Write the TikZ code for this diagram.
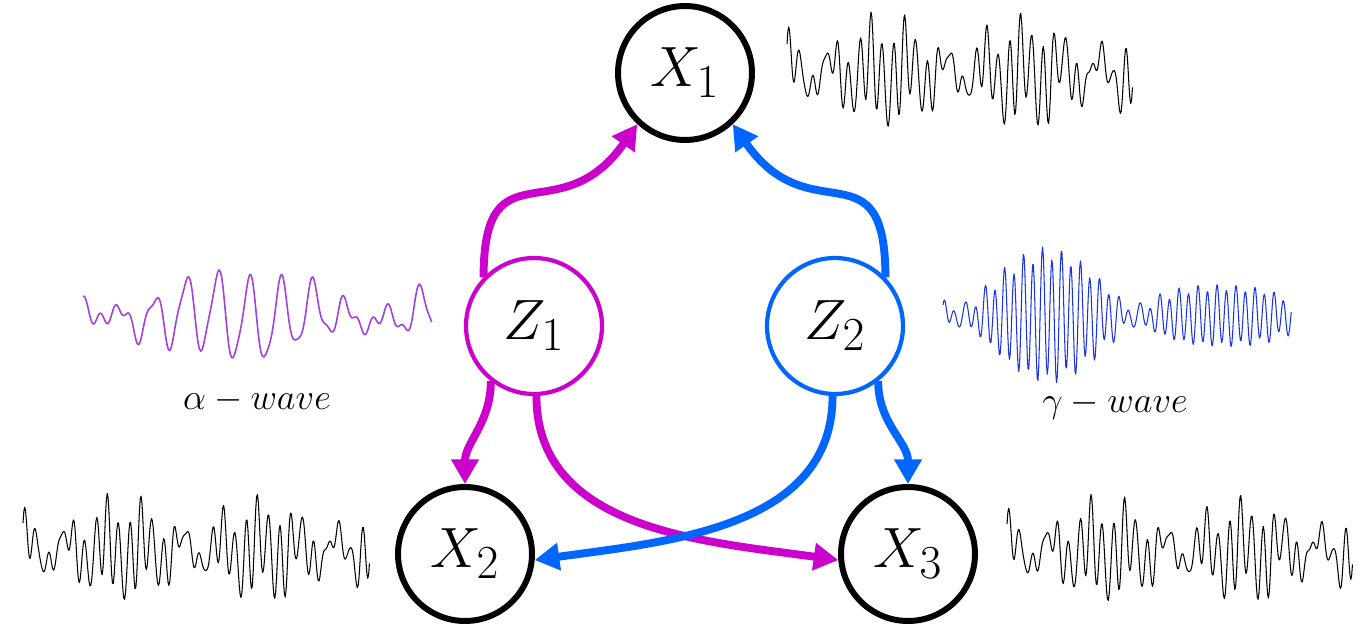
\documentclass[tikz,border=0pt]{standalone}
\usepackage{xcolor}
\usepackage{graphicx}
\usepackage{tikz}
\usetikzlibrary{arrows.meta}
\definecolor{zmagenta}{HTML}{CC00CC}
\definecolor{zblue}{HTML}{0066FF}
\definecolor{alphapurple}{HTML}{A040E0}
\definecolor{gammablue}{HTML}{1A33E6}
\newcommand{\varlabel}[1]{\scalebox{1.3}{$#1$}}

\begin{document}
\begin{tikzpicture}[x=0.02cm, y=0.02cm, obs/.style={circle, draw=black, line width=3.4pt, minimum size=2.68cm, inner sep=0pt, font=\Huge}, latent/.style={circle, line width=2.4pt, minimum size=2.72cm, inner sep=0pt, font=\Huge}, link/.style={-{Triangle[length=14pt, width=15pt]}, line width=4.5pt}, signal/.style={line width=0.6pt, line join=round}, wavelabel/.style={font=\fontsize{21}{25}\selectfont}, declare function={alphaw(\t)=0.55*sin(3780*\t+80)+0.4*sin(4250*\t+230)+0.15*sin(8300*\t+40)+0.12*sin(1080*\t+90); gammaw(\t)=(0.8+0.3*cos(360*\t-108))*(0.55*sin(12960*\t)+0.4*sin(13680*\t+144)+0.12*sin(6480*\t+10)); blackw(\t)=0.45*sin(10800*\t)+0.3*sin(11700*\t+100)+0.3*sin(3240*\t+40)+0.1*sin(15120*\t+20);}]
\useasboundingbox (0,0) rectangle (1370,633);
% signals
\draw[signal, black] plot[domain=0:1, samples=400] ({787+346*\x}, {560+56*blackw(\x)});
\draw[signal, alphapurple, line width=0.9pt] plot[domain=0:1, samples=250] ({83+349*\x}, {317+44*alphaw(\x)});
\draw[signal, gammablue] plot[domain=0:1, samples=450] ({943+349*\x}, {317+60*gammaw(\x)});
\draw[signal, black] plot[domain=0:1, samples=400] ({23+347*\x}, {83+52*blackw(\x)});
\draw[signal, black] plot[domain=0:1, samples=400] ({1007+346*\x}, {82+52*blackw(\x)});
\node[wavelabel] (alphalabel) at (257,233) {$\alpha - wave$};
\node[wavelabel] (gammalabel) at (1115,228) {$\gamma - wave$};
% variables
\node[obs] (X1) at (685,560) {\varlabel{X_1}};
\node[obs] (X2) at (465,79) {\varlabel{X_2}};
\node[obs] (X3) at (908,79) {\varlabel{X_3}};
\node[latent, draw=zmagenta] (Z1) at (534,307) {\varlabel{Z_1}};
\node[latent, draw=zblue] (Z2) at (835,307) {\varlabel{Z_2}};
% edges
\draw[link, zmagenta] (Z1.136) to[out=90, in=235, looseness=1.6] (X1.227);
\draw[link, zmagenta] (Z1.232) to[out=-90, in=90] (X2.north);
\draw[link, zmagenta] (Z1.-88) to[out=-90, in=172] (X3.185);
\draw[link, zblue] (Z2.44) to[out=90, in=-55, looseness=1.6] (X1.-47);
\draw[link, zblue] (Z2.-52) to[out=-90, in=90] (X3.north);
\draw[link, zblue] (Z2.-92) to[out=-90, in=8] (X2.-5);
\end{tikzpicture}
\end{document}
